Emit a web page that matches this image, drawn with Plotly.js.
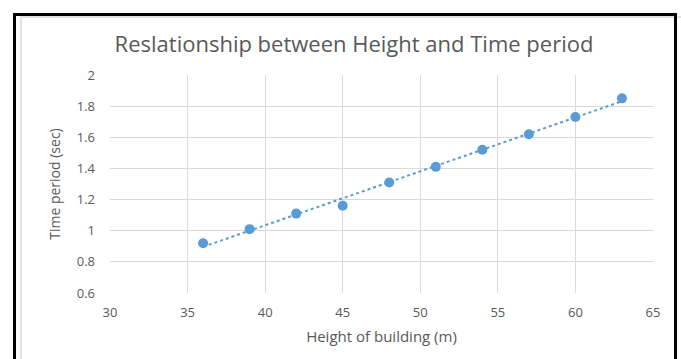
<!DOCTYPE html>
<html>
<head>
<meta charset="utf-8">
<script src="https://cdn.plot.ly/plotly-3.0.1.min.js"></script>
<style>
  html, body { margin: 0; padding: 0; background: #ffffff; width: 681px; height: 359px; overflow: hidden; }
  #outer { position: absolute; left: 13px; top: 13px; width: 658px; height: 400px; border: 3px solid #000; box-sizing: content-box; }
  #inner { position: absolute; left: 20px; top: 16px; width: 660px; height: 400px; border-left: 2px solid #e2e2e2; border-top: 2px solid #e2e2e2; border-right: 2px solid #e2e2e2; }
  #chart { position: absolute; left: 0; top: 0; width: 681px; height: 359px; }
</style>
</head>
<body>
<div id="inner"></div>
<div id="outer"></div>
<div id="chart"></div>
<script>
const chartTitle = "Reslationship between Height and Time period";
const xTitle = "Height of building (m)";
const yTitle = "Time period (sec)";
const heights = [36, 39, 42, 45, 48, 51, 54, 57, 60, 63];
const periods = [0.92, 1.01, 1.11, 1.16, 1.31, 1.41, 1.52, 1.62, 1.73, 1.85];
const xTicks = [30, 35, 40, 45, 50, 55, 60, 65];
const yTicks = [0.6, 0.8, 1, 1.2, 1.4, 1.6, 1.8, 2];
const yTickText = ["0.6", "0.8", "1", "1.2", "1.4", "1.6", "1.8", "2"];

// Linear least-squares trendline derived from the data (as Excel does)
const n = heights.length;
const mx = heights.reduce((a, b) => a + b, 0) / n;
const my = periods.reduce((a, b) => a + b, 0) / n;
let sxy = 0, sxx = 0;
for (let i = 0; i < n; i++) { sxy += (heights[i] - mx) * (periods[i] - my); sxx += (heights[i] - mx) ** 2; }
const slope = sxy / sxx, icpt = my - slope * mx;
const trendX = [heights[0], heights[n - 1]];
const trendY = trendX.map(x => icpt + slope * x);

const blue = "#5b9bd5";
const grey = "#595959";
const font = "Open Sans, Noto Sans, sans-serif";

const data = [
  { x: trendX, y: trendY, type: "scatter", mode: "lines",
    line: { color: blue, width: 2, dash: "dot" }, hoverinfo: "skip", showlegend: false },
  { x: heights, y: periods, type: "scatter", mode: "markers",
    marker: { color: blue, size: 10 }, showlegend: false }
];

const layout = {
  width: 681, height: 359,
  margin: { l: 110, r: 28, t: 75, b: 66 },
  paper_bgcolor: "rgba(0,0,0,0)",
  plot_bgcolor: "rgba(0,0,0,0)",
  font: { family: font, color: grey },
  title: { text: chartTitle, font: { family: font, size: 22, color: grey },
           x: 354 / 681, xref: "container", xanchor: "center",
           y: 1 - 44 / 359, yref: "container", yanchor: "middle" },
  xaxis: {
    range: [30, 65], tickvals: xTicks, ticktext: xTicks.map(String),
    showgrid: true, gridcolor: "#d9d9d9", gridwidth: 1,
    zeroline: false, showline: false, ticks: "", ticklabelstandoff: 10,
    tickfont: { family: font, size: 13, color: grey },
    title: { text: xTitle, font: { family: font, size: 15, color: grey }, standoff: 11 }
  },
  yaxis: {
    range: [0.6, 2], tickvals: yTicks, ticktext: yTickText,
    showgrid: true, gridcolor: "#d9d9d9", gridwidth: 1,
    zeroline: false, showline: false, ticks: "", ticklabelstandoff: 14,
    tickfont: { family: font, size: 13, color: grey },
    title: { text: yTitle, font: { family: font, size: 14, color: grey }, standoff: 12 }
  }
};

Plotly.newPlot("chart", data, layout, { displayModeBar: false, staticPlot: true });
</script>
</body>
</html>
